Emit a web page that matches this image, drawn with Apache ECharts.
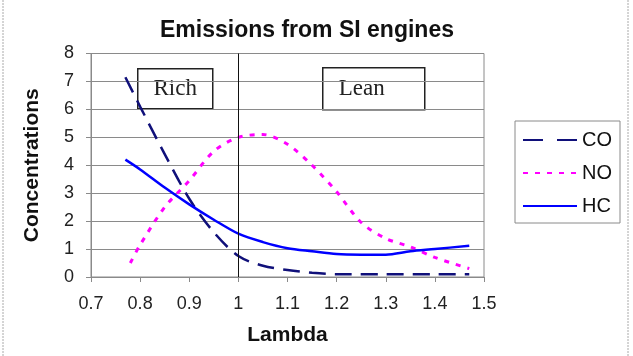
<!DOCTYPE html>
<html>
<head>
<meta charset="utf-8">
<script src="https://cdn.jsdelivr.net/npm/echarts@6/dist/echarts.min.js"></script>
<style>
  html, body { margin: 0; padding: 0; background: #fff; }
  #main { width: 633px; height: 356px; }
</style>
</head>
<body>
<div id="main"></div>
<script>
// lambda / concentration pairs
var coData = [[0.77, 7.15], [0.8, 6.1], [0.85, 4.4], [0.9, 2.8], [0.95, 1.6], [1.0, 0.75],
    [1.05, 0.4], [1.1, 0.25], [1.15, 0.15], [1.2, 0.1], [1.3, 0.1], [1.4, 0.1], [1.47, 0.1]];
var noData = [[0.78, 0.5], [0.8, 1.15], [0.85, 2.5], [0.9, 3.45], [0.95, 4.5], [1.0, 5.0],
    [1.05, 5.1], [1.1, 4.75], [1.15, 4.0], [1.2, 3.05], [1.25, 1.95], [1.3, 1.38],
    [1.35, 1.08], [1.4, 0.7], [1.47, 0.3]];
var hcData = [[0.77, 4.2], [0.8, 3.85], [0.85, 3.2], [0.9, 2.6], [0.95, 2.05], [1.0, 1.55],
    [1.05, 1.25], [1.1, 1.03], [1.15, 0.92], [1.2, 0.82], [1.25, 0.8], [1.3, 0.8],
    [1.35, 0.92], [1.4, 1.0], [1.47, 1.12]];
var seriesNames = ['CO', 'NO', 'HC'];
var stoich = 1.0;

var chart = echarts.init(document.getElementById('main'));
var grey = '#8a8a8a';

var option = {
    animation: false,
    backgroundColor: '#fff',
    title: {
        text: 'Emissions from SI engines',
        left: 307,
        top: 19,
        padding: 0,
        textAlign: 'center',
        textStyle: { fontFamily: 'Liberation Sans', fontSize: 23, fontWeight: 'bold', color: '#111' }
    },
    grid: {
        left: 91, right: 149, top: 53.5, bottom: 79,
        show: true, borderColor: grey, borderWidth: 1,
        outerBoundsMode: 'none'
    },
    legend: {
        data: [
            { name: seriesNames[0], lineStyle: { type: [20, 14] } },
            { name: seriesNames[1] },
            { name: seriesNames[2] }
        ],
        orient: 'vertical',
        left: 515,
        top: 121,
        padding: [9, 8, 7, 7],
        itemWidth: 54,
        itemHeight: 14,
        itemGap: 13,
        borderColor: grey,
        borderWidth: 1,
        itemStyle: { opacity: 0 },
        textStyle: { fontFamily: 'Liberation Sans', fontSize: 20, lineHeight: 20, color: '#111' }
    },
    xAxis: {
        type: 'value',
        min: 0.7, max: 1.5, interval: 0.1,
        name: 'Lambda',
        nameLocation: 'middle',
        nameGap: 48,
        nameTextStyle: { fontFamily: 'Liberation Sans', fontSize: 21, fontWeight: 'bold', color: '#111' },
        axisLine: { lineStyle: { color: grey } },
        axisTick: { show: true, length: 5, lineStyle: { color: grey } },
        axisLabel: { fontFamily: 'Liberation Sans', fontSize: 18, color: '#222', margin: 18 },
        splitLine: { show: false }
    },
    yAxis: {
        type: 'value',
        min: 0, max: 8, interval: 1,
        name: 'Concentrations',
        nameLocation: 'middle',
        nameGap: 48,
        nameTextStyle: { fontFamily: 'Liberation Sans', fontSize: 21, fontWeight: 'bold', color: '#111' },
        axisLine: { show: true, lineStyle: { color: grey } },
        axisTick: { show: true, length: 5, lineStyle: { color: grey } },
        axisLabel: { fontFamily: 'Liberation Sans', fontSize: 18, color: '#222', margin: 17 },
        splitLine: { lineStyle: { color: grey, width: 1 } }
    },
    series: [
        {
            name: 'CO', type: 'line', data: coData, smooth: 0.3, symbol: 'none',
            lineStyle: { color: '#10107a', width: 2.5, type: [17, 9] },
            itemStyle: { color: '#10107a' },
            markLine: {
                silent: true, symbol: 'none', label: { show: false },
                lineStyle: { color: '#111', width: 1, type: 'solid' },
                data: [{ xAxis: stoich }]
            }
        },
        {
            name: 'NO', type: 'line', data: noData, smooth: 0.3, symbol: 'none',
            lineStyle: { color: '#ff00ff', width: 3, type: [5, 7] },
            itemStyle: { color: '#ff00ff' }
        },
        {
            name: 'HC', type: 'line', data: hcData, smooth: 0.3, symbol: 'none',
            lineStyle: { color: '#0000ff', width: 2.5 },
            itemStyle: { color: '#0000ff' }
        }
    ],
    graphic: [
        { type: 'line', shape: { x1: 3, y1: 0, x2: 3, y2: 356 }, style: { stroke: '#aaa', lineWidth: 1, lineDash: [2, 1] } },
        { type: 'line', shape: { x1: 628, y1: 0, x2: 628, y2: 356 }, style: { stroke: '#aaa', lineWidth: 1, lineDash: [2, 1] } },
        {
            type: 'group', left: 137, top: 68,
            children: [
                { type: 'rect', shape: { x: 0, y: 0, width: 75, height: 40 }, style: { fill: '#fff', stroke: '#222', lineWidth: 1.5 } },
                { type: 'text', x: 37.5, y: 20, style: { text: 'Rich', font: '23px "Liberation Serif"', fill: '#222', align: 'center', verticalAlign: 'middle' } }
            ]
        },
        {
            type: 'group', left: 322, top: 67,
            children: [
                { type: 'rect', shape: { x: 0, y: 0, width: 102, height: 42 }, style: { fill: '#fff', stroke: '#222', lineWidth: 1.5 } },
                { type: 'text', x: 39, y: 21, style: { text: 'Lean', font: '23px "Liberation Serif"', fill: '#222', align: 'center', verticalAlign: 'middle' } }
            ]
        }
    ]
};
chart.setOption(option);
</script>
</body>
</html>
